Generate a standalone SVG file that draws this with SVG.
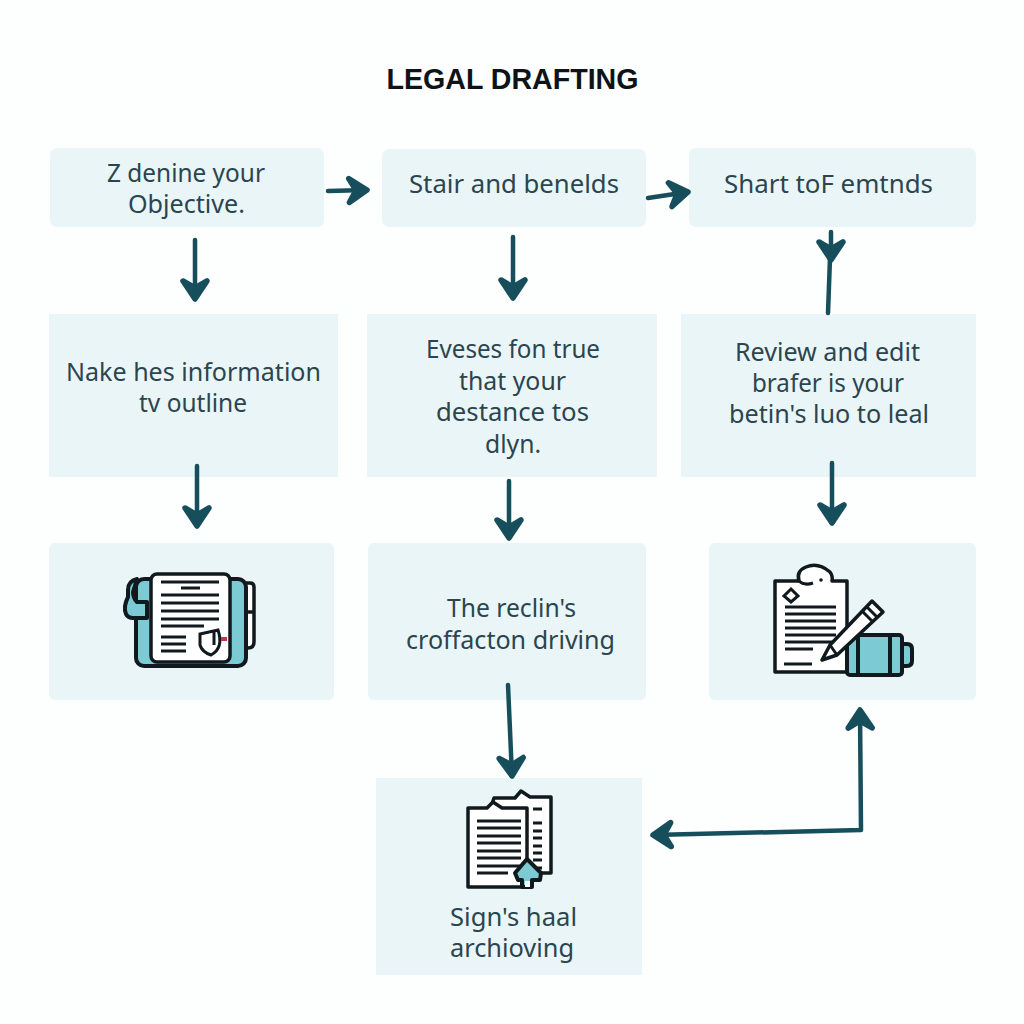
<svg xmlns="http://www.w3.org/2000/svg" width="1024" height="1024" viewBox="0 0 1024 1024">
<style>
.box{fill:#eaf5f7}
.t{font-family:"Noto Sans","DejaVu Sans",sans-serif;font-size:25px;fill:#2b454f;text-anchor:middle}
.title{font-family:"Liberation Sans",Arial,sans-serif;font-size:28.6px;font-weight:700;fill:#0d1316;text-anchor:middle}
.c{fill:none;stroke:#174e5c;stroke-width:4.5;stroke-linecap:round;stroke-linejoin:round}
.l{fill:none;stroke:#10191d;stroke-width:3}
.p{fill:#fff;stroke:#10191d;stroke-width:3.5;stroke-linejoin:round}
.a{fill:#7ccad3;stroke:#10191d;stroke-width:4;stroke-linejoin:round}
</style>
<defs>
<marker id="head" markerUnits="userSpaceOnUse" markerWidth="44" markerHeight="44" refX="29" refY="22" orient="auto-start-reverse">
<path d="M11 10 29 22 11 34 18 22Z" fill="#174e5c" stroke="#174e5c" stroke-width="5.500" stroke-linecap="round" stroke-linejoin="round"/>
</marker>
</defs>
<rect width="1024" height="1024" fill="#fdfefe"/>
<text class="title" x="512.500" y="89">LEGAL DRAFTING</text>

<g id="node-objective"><rect class="box" x="50" y="148" width="274" height="79" rx="7"/>
<text class="t" x="186" y="182" textLength="158" lengthAdjust="spacingAndGlyphs">Z denine your</text><text class="t" x="186.500" y="213" textLength="117" lengthAdjust="spacingAndGlyphs">Objective.</text></g>

<g id="node-stair"><rect class="box" x="382" y="149" width="264" height="78" rx="7"/>
<text class="t" x="514" y="193" textLength="210" lengthAdjust="spacingAndGlyphs">Stair and benelds</text></g>

<g id="node-shart"><rect class="box" x="689" y="148" width="287" height="79" rx="7"/>
<text class="t" x="828.500" y="193" textLength="209" lengthAdjust="spacingAndGlyphs">Shart toF emtnds</text></g>

<g id="node-nake"><rect class="box" x="49" y="314" width="289" height="163"/>
<text class="t" x="193.500" y="381" textLength="255" lengthAdjust="spacingAndGlyphs">Nake hes information</text><text class="t" x="193" y="412" textLength="108" lengthAdjust="spacingAndGlyphs">tv outline</text></g>

<g id="node-eveses"><rect class="box" x="367" y="314" width="290" height="163"/>
<text class="t" x="513" y="358" textLength="174" lengthAdjust="spacingAndGlyphs">Eveses fon true</text><text class="t" x="512.500" y="390" textLength="107" lengthAdjust="spacingAndGlyphs">that your</text><text class="t" x="512.500" y="421" textLength="153" lengthAdjust="spacingAndGlyphs">destance tos</text><text class="t" x="513" y="453" textLength="56" lengthAdjust="spacingAndGlyphs">dlyn.</text></g>

<g id="node-review"><rect class="box" x="681" y="314" width="295" height="163"/>
<text class="t" x="827.500" y="361" textLength="185" lengthAdjust="spacingAndGlyphs">Review and edit</text><text class="t" x="828" y="392" textLength="152" lengthAdjust="spacingAndGlyphs">brafer is your</text><text class="t" x="829" y="423" textLength="200" lengthAdjust="spacingAndGlyphs">betin's luo to leal</text></g>

<g id="node-binder"><rect class="box" x="49" y="543" width="285" height="157" rx="6"/>
<path class="p" d="M244 583H250Q254 583 254 587V612H244ZM244 612H254V642Q254 648 248 648H244Z"/>
<rect class="a" x="136" y="579" width="110" height="87" rx="8"/>
<path class="a" d="M137 579Q128 581 128 590V597Q123 607 126 614 128 618 133 618H147V602H137Q133 598 133 592Z"/>
<rect class="p" x="151" y="574" width="79" height="88" rx="6" stroke-width="4"/>
<path class="l" d="M161 582H219M181 588H200M161 595H219M161 603H219M161 611H219M161 619H219M161 626H204M161 637H186M161 644H186M161 651H186"/>
<path class="l" d="M200 634 218 630Q224 648 211 655 202 652 200 645Z"/>
<path d="M214 630V645" stroke="#10191d" stroke-width="3"/>
<rect x="221" y="637" width="6" height="4" fill="#c2384a"/>
</g>

<g id="node-reclin"><rect class="box" x="368" y="543" width="278" height="157" rx="6"/>
<text class="t" x="511.500" y="617" textLength="129" lengthAdjust="spacingAndGlyphs">The reclin's</text><text class="t" x="510.500" y="649" textLength="209" lengthAdjust="spacingAndGlyphs">croffacton driving</text></g>

<g id="node-checklist"><rect class="box" x="709" y="543" width="267" height="157" rx="6"/>
<path class="p" d="M775 581H799Q796 571 806 567 818 562 830 572 833 576 832 581H847V672H775Z"/>
<path class="l" d="M799 581Q804 586 813 583"/>
<circle cx="821" cy="580" r="1.8" fill="#10191d"/>
<path class="l" d="M791 589 798 596 791 602 784 596Z"/>
<path class="l" d="M785 607H836M785 614H836M785 621H836M785 628H836M785 635H836M785 642H836M785 649H813M784 664H812"/>
<rect class="a" x="847" y="635" width="55" height="40" rx="3"/>
<path class="a" d="M902 644H907Q912 644 912 649V661Q912 666 907 666H902Z" stroke-width="3"/>
<path d="M858 635V675M890 635V675" stroke="#10191d" stroke-width="4"/>
<path class="p" d="M822 660 830 645 872 601 883 612 837 655Z"/>
<path class="l" d="M830 645 837 655M862 611 873 622M866 606 877 617"/>
</g>

<g id="node-archive"><rect class="box" x="376" y="778" width="266" height="197"/>
<path class="p" d="M492 804 494 798H515L521 791 530 797H551V873H520Z"/>
<path class="l" d="M533 809H542M533 823H542M533 831H542M533 838H542M533 846H542M533 853H542M533 860H542M533 868H542"/>
<path class="p" d="M468 808H487L493 802 502 808H527V887H468Z"/>
<path class="l" d="M477 821H521M477 828H521M477 836H521M477 843H521M477 851H521M477 858H521M477 866H521M477 873H508"/>
<path class="a" d="M527 859 541 873 540 880H532V887H522V880H518L515 873Z" stroke-width="3.500"/>
<rect x="525" y="881" width="5" height="6" fill="#fff"/>
<text class="t" x="513.500" y="926" textLength="127" lengthAdjust="spacingAndGlyphs">Sign's haal</text><text class="t" x="512" y="957" textLength="124" lengthAdjust="spacingAndGlyphs">archioving</text></g>

<g id="connectors">
<path class="c" marker-end="url(#head)" d="M328 191 367 190"/>
<path class="c" marker-end="url(#head)" d="M648 198 688 192"/>
<path class="c" marker-end="url(#head)" d="M195 240V299"/>
<path class="c" marker-end="url(#head)" d="M513 237V298"/>
<path class="c" d="M828 313 830 258"/>
<path class="c" marker-end="url(#head)" d="M831 232V260"/>
<path class="c" marker-end="url(#head)" d="M197 466V526"/>
<path class="c" marker-end="url(#head)" d="M509 481V538"/>
<path class="c" marker-end="url(#head)" d="M832 463V523"/>
<path class="c" marker-end="url(#head)" d="M508 685 512 776"/>
<path class="c" marker-start="url(#head)" marker-end="url(#head)" d="M860 710 861 830 653 835"/>
</g>
</svg>
